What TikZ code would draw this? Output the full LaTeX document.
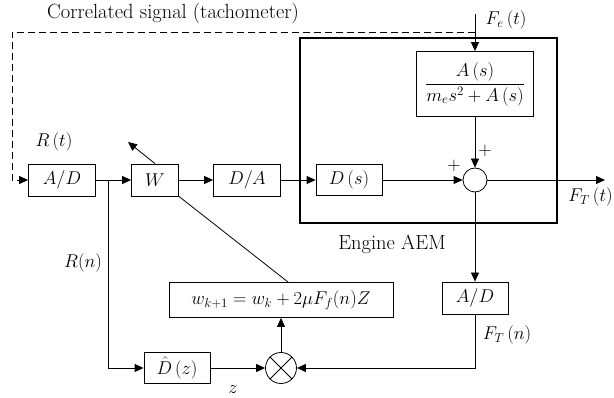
\RequirePackage{fix-cm}
\documentclass[tikz,border=0pt]{standalone}
\usepackage{amsmath}
\usetikzlibrary{arrows.meta}
\begin{document}
\begin{tikzpicture}[x=1pt,y=-1pt,
  font=\fontsize{18.5}{22}\selectfont,
  line width=0.8pt,
  >={Triangle[length=9pt,width=8pt]},
  blk/.style={draw,rectangle,inner sep=2pt,minimum height=32pt},
  circ/.style={draw,circle,inner sep=0pt},
  lbl/.style={inner sep=0pt},
  txt/.style={inner sep=0pt,font=\fontsize{20.5}{24}\selectfont}]
\useasboundingbox (0,0) rectangle (614,398);
% engine box
\draw[line width=1.6pt] (300,38) rectangle (557,223);
% blocks
\node[blk,minimum width=67pt] (ad1) at (62,180) {$A/D$};
\node[blk,minimum width=47pt] (w) at (155,180) {$W$};
\node[blk,minimum width=67pt] (da) at (247,180) {$D/A$};
\node[blk,minimum width=66pt,minimum height=31pt] (ds) at (349,180) {$D\,(s)$};
\node[blk,minimum width=117pt,minimum height=65pt] (as) at (475,84) {$\dfrac{A\,(s)}{m_e s^2+A\,(s)}$};
\node[circ,minimum size=24pt] (sum) at (475,180) {};
\node[blk,minimum width=66pt] (ad2) at (475,298) {$A/D$};
\node[blk,minimum width=224pt,minimum height=35pt] (upd) at (281,300) {$w_{k+1}=w_k+2\mu F_f(n)Z$};
\node[blk,minimum width=66pt,minimum height=31pt] (dh) at (177,368) {$\hat{D}\,(z)$};
\node[circ,minimum size=31pt] (mul) at (281,368) {};
\draw (mul.north east) -- (mul.south west) (mul.north west) -- (mul.south east);
% coordinates
\coordinate (fetop) at (475,14);
\coordinate (dtop) at (475,32);
\coordinate (dcorner) at (12,32);
\coordinate (dbot) at (12,180);
\coordinate (br) at (108,180);
\coordinate (brd) at (108,368);
\coordinate (out) at (605,180);
\coordinate (ftn) at (475,368);
\coordinate (wtip) at (128,142);
\coordinate (updtop) at (288,282);
% connectors
\draw[dashed,dash pattern=on 7pt off 4pt,->] (dtop) -- (dcorner) -- (dbot) -- (ad1.west);
\draw[->] (fetop) -- (as.north);
\draw[->] (as.south) -- (sum.north);
\draw[->] (ad1.east) -- (w.west);
\draw[->] (w.east) -- (da.west);
\draw[->] (da.east) -- (ds.west);
\draw[->] (ds.east) -- (sum.west);
\draw[->] (sum.east) -- (out);
\draw[->] (sum.south) -- (ad2.north);
\draw[->] (ad2.south) -- (ftn) -- (mul.east);
\draw[->] (br) -- (brd) -- (dh.west);
\draw[->] (dh.east) -- (mul.west);
\draw[->] (mul.north) -- (upd.south);
\draw (w.south east) -- (updtop);
\draw[->] (w.north) -- (wtip);
% labels
\node[txt] (lcorr) at (173,13) {Correlated signal (tachometer)};
\node[lbl] (lfe) at (506,20) {$F_e\,(t)$};
\node[lbl] (lrt) at (54,142) {$R\,(t)$};
\node[lbl] (lrn) at (83,263) {$R(n)$};
\node[lbl] (lp1) at (454,166) {$+$};
\node[lbl] (lp2) at (485,151) {$+$};
\node[lbl,anchor=east] (lft) at (613,197) {$F_T\,(t)$};
\node[txt] (leng) at (392,244) {Engine AEM};
\node[lbl] (lftn) at (507,335) {$F_T\,(n)$};
\node[lbl] (lz) at (233,390) {$z$};
\end{tikzpicture}
\end{document}
